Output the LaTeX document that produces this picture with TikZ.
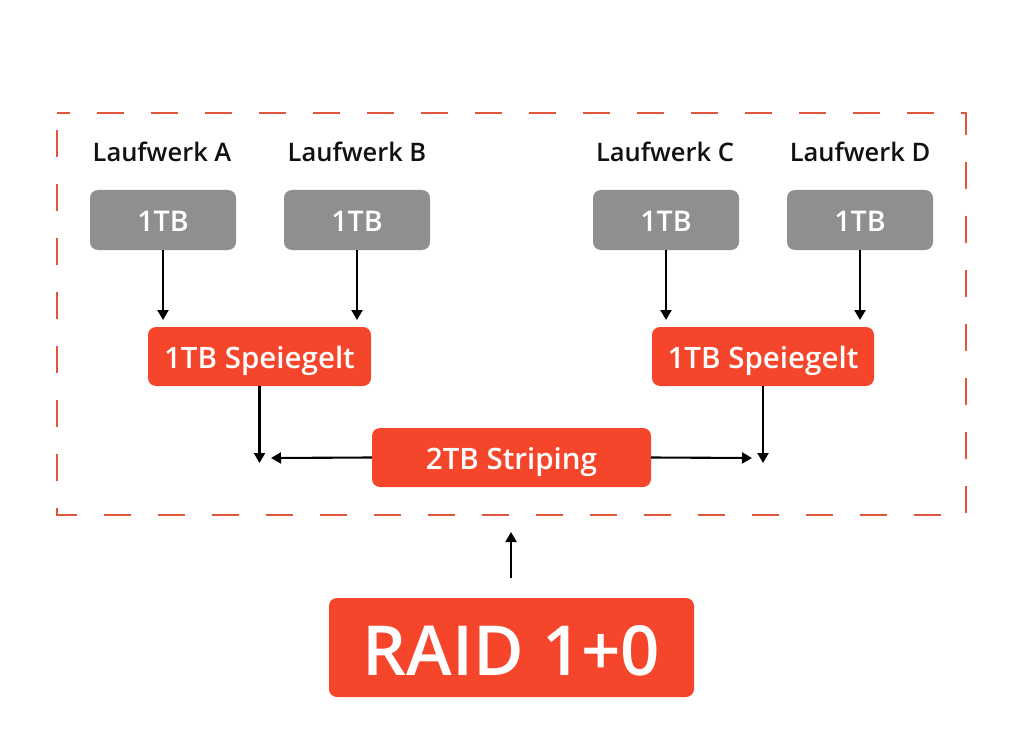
\documentclass[tikz,border=0pt]{standalone}
\usepackage{fontspec}
\setmainfont{Open Sans}
\IfFontExistsTF{Open Sans Semibold}{\newfontfamily\sbf{Open Sans Semibold}}{%
  \IfFontExistsTF{Open Sans SemiBold}{\newfontfamily\sbf{Open Sans SemiBold}}{%
    \newfontfamily\sbf{Open Sans}[FakeBold=1.2]}}
\usetikzlibrary{arrows.meta}
\definecolor{orng}{HTML}{F5452A}
\definecolor{frm}{HTML}{E2553E}
\definecolor{gry}{HTML}{8F8F8F}
\definecolor{txt}{HTML}{111111}
\begin{document}
\begin{tikzpicture}[x=1pt,y=-1pt,
  lbl/.style={text=txt,font=\sbf\fontsize{25.5}{30}\selectfont,inner sep=0pt,text height=18.3pt,text depth=0pt},
  graybox/.style={fill=gry,rounded corners=8pt,minimum width=146pt,minimum height=60pt,inner sep=0pt,text=white,font=\sbf\fontsize{28.5}{32}\selectfont,text height=20.3pt,text depth=0pt},
  orbox/.style={fill=orng,rounded corners=8pt,minimum height=59pt,inner sep=0pt,text=white,font=\sbf\fontsize{29.5}{34}\selectfont,text height=21pt,text depth=0pt},
  arr/.style={draw=black,line width=2.1pt,-{Triangle[length=10pt,width=11pt]}},
  frame/.style={draw=frm,line width=2.3pt,dash pattern=on 27pt off 27pt,dash phase=14pt}
]
\useasboundingbox (0,0) rectangle (1024,743);
\draw[frame] (57,113) -- (966,113) -- (966,515) -- (57,515) -- cycle;

\node[lbl] (la) at (162,152.5) {Laufwerk A};
\node[lbl] (lb) at (357,152.5) {Laufwerk B};
\node[lbl] (lc) at (665,152.5) {Laufwerk C};
\node[lbl] (ld) at (860,152.5) {Laufwerk D};

\node[graybox] (da) at (163,220) {\raisebox{-1pt}{1TB}};
\node[graybox] (db) at (357,220) {\raisebox{-1pt}{1TB}};
\node[graybox] (dc) at (666,220) {\raisebox{-1pt}{1TB}};
\node[graybox] (dd) at (860,220) {\raisebox{-1pt}{1TB}};

\node[orbox,minimum width=223pt] (ml) at (259.5,356.5) {\raisebox{-1.5pt}{1TB Speiegelt}};
\node[orbox,minimum width=222pt] (mr) at (763,356.5) {\raisebox{-1.5pt}{1TB Speiegelt}};
\node[orbox,minimum width=279pt] (st) at (511.5,457.5) {\raisebox{-1pt}{2TB Striping}};
\node[orbox,minimum width=365pt,minimum height=99pt,font=\sbf\fontsize{69}{72}\selectfont,text height=49pt] (rd) at (511.5,647.5) {\raisebox{-3.5pt}{RAID 1+0}};

\coordinate (ta) at (163,320);
\coordinate (tb) at (357,320);
\coordinate (tc) at (666,320);
\coordinate (td) at (860,320);
\coordinate (jl) at (259.5,463);
\coordinate (jr) at (763,463);
\coordinate (hl) at (271,458);
\coordinate (hr) at (752,458);
\coordinate (up) at (511,532);

\draw[arr] (da.south) -- (ta);
\draw[arr] (db.south) -- (tb);
\draw[arr] (dc.south) -- (tc);
\draw[arr] (dd.south) -- (td);
\draw[arr] (ml.south) -- (jl);
\draw[arr] (mr.south) -- (jr);
\draw[arr] (st.west) -- (hl);
\draw[arr] (st.east) -- (hr);
\draw[arr,shorten <=20pt] (rd.north -| up) -- (up);
\end{tikzpicture}
\end{document}
